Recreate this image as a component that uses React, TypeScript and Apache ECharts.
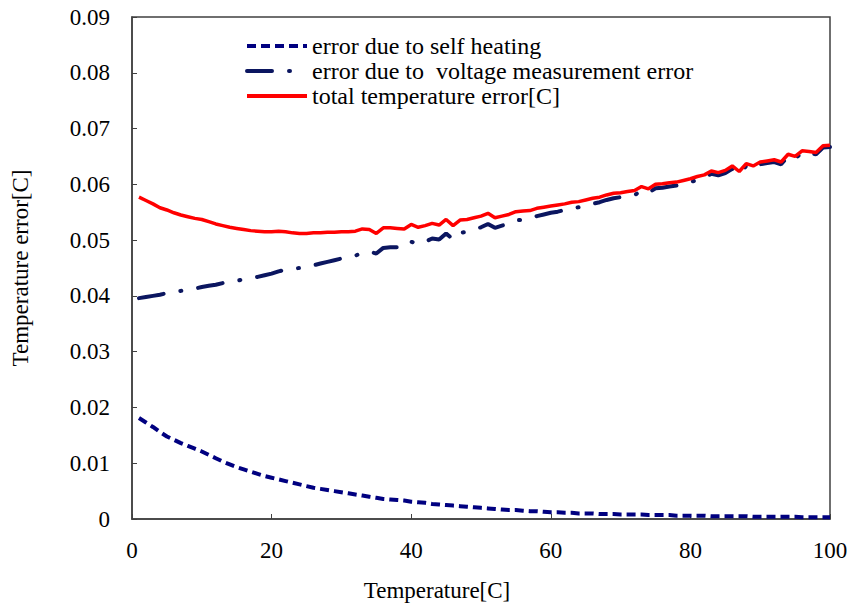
import { useEffect, useRef } from "react";
import * as echarts from "echarts";

const temperatures: number[] = Array.from({ length: 100 }, (_, i) => i + 1);

const selfHeatingError = [
  0.0181, 0.0173, 0.0165, 0.0156, 0.0148, 0.0142, 0.0136, 0.0131, 0.0126, 0.0121,
  0.0115, 0.0109, 0.0103, 0.0098, 0.0093, 0.0089, 0.0085, 0.0081, 0.0077, 0.0074,
  0.0071, 0.0068, 0.0065, 0.0062, 0.0059, 0.0056, 0.0054, 0.0052, 0.005, 0.0048,
  0.0046, 0.0044, 0.0042, 0.004, 0.0038, 0.0036, 0.0035, 0.0034, 0.0033, 0.0031,
  0.003, 0.0029, 0.0027, 0.0026, 0.0025, 0.0024, 0.0023, 0.0022, 0.0021, 0.002,
  0.0019, 0.0018, 0.0017, 0.0016, 0.0016, 0.0015, 0.0014, 0.0014, 0.0013, 0.0012,
  0.0012, 0.0011, 0.0011, 0.001, 0.001, 0.001, 0.0009, 0.0009, 0.0009, 0.0008,
  0.0008, 0.0008, 0.0008, 0.0007, 0.0007, 0.0007, 0.0007, 0.0006, 0.0006, 0.0006,
  0.0006, 0.0006, 0.0005, 0.0005, 0.0005, 0.0005, 0.0005, 0.0005, 0.0004, 0.0004,
  0.0004, 0.0004, 0.0004, 0.0004, 0.0004, 0.0003, 0.0003, 0.0003, 0.0003, 0.0003,
];

const voltageError = [
  0.0396, 0.0398, 0.04, 0.0402, 0.0405, 0.0407, 0.0409, 0.0411, 0.0413, 0.0416,
  0.0418, 0.042, 0.0423, 0.0425, 0.0427, 0.043, 0.0432, 0.0434, 0.0437, 0.044,
  0.0444, 0.0447, 0.0449, 0.045, 0.0452, 0.0455, 0.0458, 0.0461, 0.0464, 0.0467,
  0.0469, 0.0472, 0.0478, 0.0479, 0.0476, 0.0486, 0.0487, 0.0487, 0.0487, 0.0497,
  0.0493, 0.0497, 0.0503, 0.0501, 0.0512, 0.0501, 0.0513, 0.0515, 0.0519, 0.0523,
  0.0529, 0.0522, 0.0526, 0.053, 0.0535, 0.0537, 0.0539, 0.0543, 0.0546, 0.0549,
  0.0551, 0.0554, 0.0557, 0.0559, 0.0562, 0.0565, 0.0568, 0.0572, 0.0575, 0.0577,
  0.0579, 0.0581, 0.0588, 0.0585, 0.0593, 0.0594, 0.0596, 0.0598, 0.0601, 0.0604,
  0.0608, 0.0612, 0.0619, 0.0616, 0.062, 0.0628, 0.0619, 0.0633, 0.0629, 0.0636,
  0.0638, 0.064, 0.0636, 0.065, 0.0646, 0.0657, 0.0656, 0.0654, 0.0666, 0.0667,
];

const totalError = [
  0.0577, 0.0571, 0.0565, 0.0558, 0.0554, 0.0549, 0.0545, 0.0542, 0.0539, 0.0537,
  0.0533, 0.0529, 0.0526, 0.0523, 0.0521, 0.0519, 0.0517, 0.0516, 0.0515, 0.0515,
  0.0516, 0.0515, 0.0513, 0.0512, 0.0512, 0.0513, 0.0513, 0.0514, 0.0514, 0.0515,
  0.0515, 0.0516, 0.052, 0.0519, 0.0512, 0.0522, 0.0522, 0.0521, 0.052, 0.0528,
  0.0523, 0.0526, 0.053, 0.0527, 0.0537, 0.0526, 0.0536, 0.0537, 0.054, 0.0543,
  0.0548, 0.054, 0.0543, 0.0546, 0.0551, 0.0552, 0.0553, 0.0557, 0.0559, 0.0561,
  0.0563, 0.0565, 0.0568, 0.0569, 0.0572, 0.0575, 0.0577, 0.0581, 0.0584, 0.0585,
  0.0587, 0.0589, 0.0596, 0.0592, 0.06, 0.0601, 0.0603, 0.0604, 0.0607, 0.061,
  0.0614, 0.0617, 0.0624, 0.0621, 0.0625, 0.0633, 0.0623, 0.0637, 0.0633, 0.064,
  0.0642, 0.0644, 0.064, 0.0654, 0.065, 0.066, 0.0659, 0.0657, 0.0669, 0.067,
];

const seriesNames = [
  "error due to self heating",
  "error due to  voltage measurement error",
  "total temperature error[C]",
];

const FONT = "Liberation Serif";

export default function App() {
  const ref = useRef<HTMLDivElement>(null);

  useEffect(() => {
    if (!ref.current) return;
    const chart = echarts.init(ref.current, null, { renderer: "svg" });
    const pair = (arr: number[]) => temperatures.map((t, i) => [t, arr[i]]);

    chart.setOption({
      animation: false,
      backgroundColor: "#ffffff",
      textStyle: { fontFamily: FONT, color: "#000" },
      grid: {
        left: 132,
        right: 24,
        top: 17,
        bottom: 89,
        show: true,
        borderColor: "#404040",
        borderWidth: 1.5,
        backgroundColor: "transparent",
      },
      legend: {
        orient: "vertical",
        left: 245,
        top: 34,
        padding: 0,
        itemWidth: 60,
        itemHeight: 10,
        itemGap: 1,
        data: seriesNames,
        itemStyle: { color: "transparent", borderColor: "transparent", borderWidth: 0, opacity: 0 },
        lineStyle: { width: 4 },
        textStyle: { fontFamily: FONT, fontSize: 24, color: "#000" },
      },
      xAxis: {
        type: "value",
        min: 0,
        max: 100,
        interval: 20,
        name: "Temperature[C]",
        nameLocation: "middle",
        nameGap: 60,
        nameTextStyle: { fontFamily: FONT, fontSize: 23, color: "#000", padding: [0, 88, 0, 0] },
        axisLine: { show: true, lineStyle: { color: "#404040", width: 1.5 } },
        axisTick: { show: true, inside: true, length: 5, lineStyle: { color: "#404040" } },
        axisLabel: { fontFamily: FONT, fontSize: 23, color: "#000", margin: 20 },
        splitLine: { show: false },
      },
      yAxis: {
        type: "value",
        min: 0,
        max: 0.09,
        interval: 0.01,
        name: "Temperature error[C]",
        nameLocation: "middle",
        nameGap: 100,
        nameTextStyle: { fontFamily: FONT, fontSize: 23, color: "#000" },
        axisLine: { show: true, lineStyle: { color: "#404040", width: 1.5 } },
        axisTick: { show: true, inside: true, length: 5, lineStyle: { color: "#404040" } },
        axisLabel: {
          fontFamily: FONT,
          fontSize: 23,
          color: "#000",
          margin: 22,
          formatter: (v: number) => (v === 0 ? "0" : v.toFixed(2)),
        },
        splitLine: { show: false },
      },
      series: [
        {
          name: seriesNames[0],
          type: "line",
          data: pair(selfHeatingError),
          symbol: "none",
          lineStyle: { color: "#000080", width: 4, type: [9, 5] },
          itemStyle: { color: "#000080" },
        },
        {
          name: seriesNames[1],
          type: "line",
          data: pair(voltageError),
          symbol: "none",
          lineStyle: { color: "#0b1660", width: 4, type: [25, 17, 1, 17], cap: "round" },
          itemStyle: { color: "#0b1660" },
        },
        {
          name: seriesNames[2],
          type: "line",
          data: pair(totalError),
          symbol: "none",
          lineStyle: { color: "#ff0000", width: 3.5 },
          itemStyle: { color: "#ff0000" },
        },
      ],
    });
    return () => chart.dispose();
  }, []);

  return (
    <div
      ref={ref}
      style={{ position: "fixed", left: 0, top: 0, width: 854, height: 608 }}
    />
  );
}
